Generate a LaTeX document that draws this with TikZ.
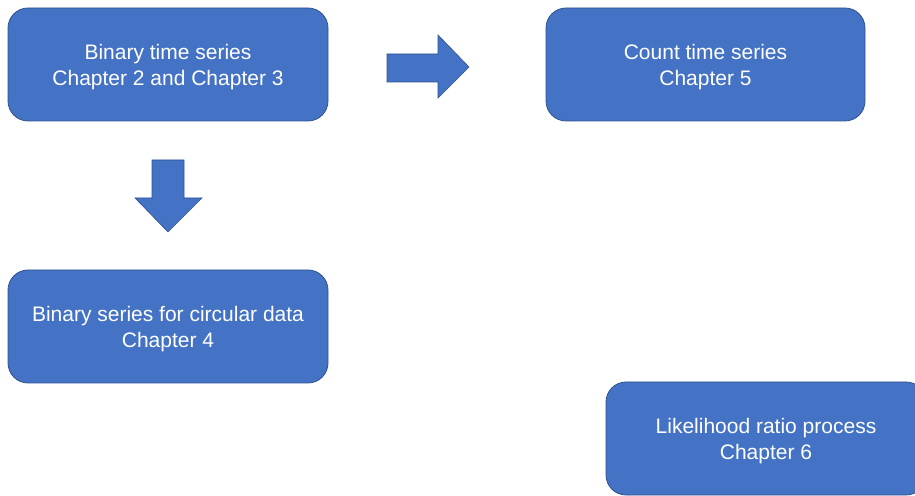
\documentclass[tikz,border=0pt]{standalone}
\usepackage{fontspec}
\setmainfont{Liberation Sans}
\usepackage{tikz}
\usetikzlibrary{calc}
\definecolor{boxblue}{HTML}{4472C4}
\definecolor{edgeblue}{HTML}{2F528F}
\tikzset{
    chapterbox/.style={draw=edgeblue, line width=0.8pt, fill=boxblue, rounded corners=20pt,
        minimum width=320pt, minimum height=113pt, align=center, text=white,
        text depth=0pt, font=\fontsize{21}{26}\selectfont},
    blockarrow/.style={draw=edgeblue, line width=0.6pt, fill=boxblue}
}

\begin{document}
\begin{tikzpicture}[x=1pt,y=1pt]
    \useasboundingbox (0,0) rectangle (915,495);
    \clip (0,0) rectangle (915,495);
    \node [chapterbox] (binary) at (168,430.5) {Binary time series\\Chapter 2 and Chapter 3};
    \node [chapterbox, minimum width=319pt] (count) at (705.5,430.5) {Count time series\\Chapter 5};
    \node [chapterbox] (circular) at (168,168.5) {Binary series for circular data\\Chapter 4};
    \node [chapterbox] (likelihood) at (766,56.5) {Likelihood ratio process\\Chapter 6};
    % right arrow
    \draw [blockarrow] (387,441) -- (438,441) -- (438,460) -- (469,428) -- (438,397) -- (438,413) -- (387,413) -- cycle;
    % down arrow
    \draw [blockarrow] (152,335) -- (184,335) -- (184,297) -- (202,297) -- (168,263) -- (135,297) -- (152,297) -- cycle;
\end{tikzpicture}
\end{document}
